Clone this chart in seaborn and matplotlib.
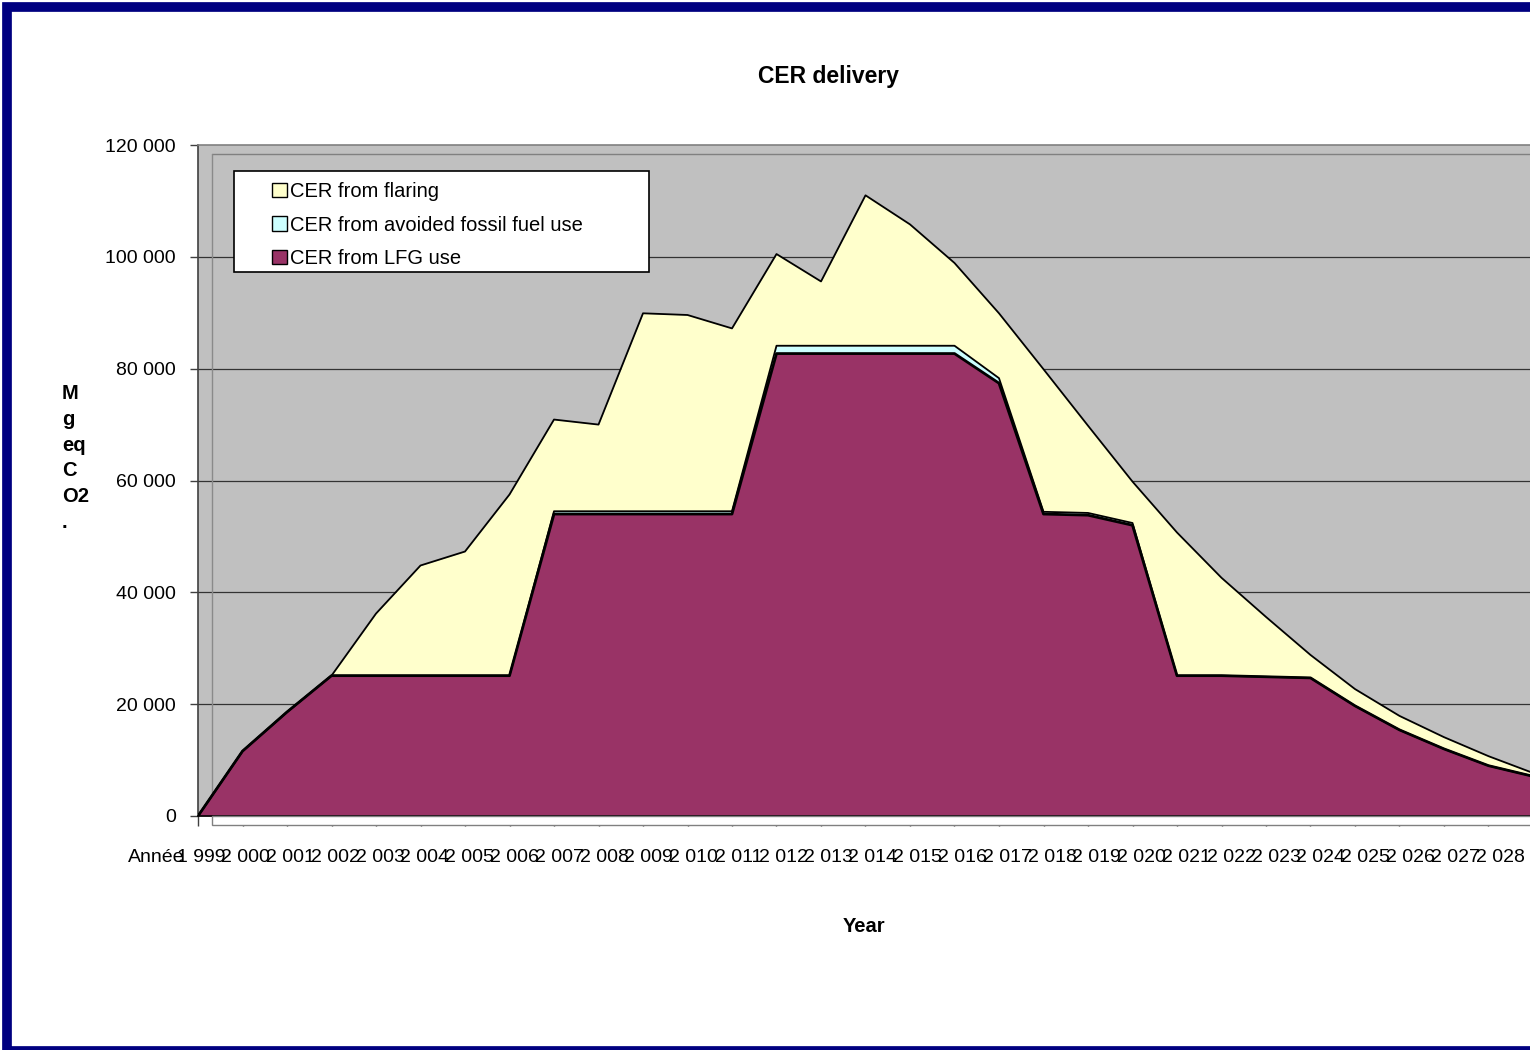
import numpy as np
import pandas as pd
import matplotlib
matplotlib.use("Agg")
import matplotlib.pyplot as plt
import matplotlib.transforms as mtransforms
from matplotlib.patches import Rectangle, Patch
from matplotlib.lines import Line2D
import seaborn as sns

# ---------------- data ----------------
first_label = "Année"
years = ["1 999", "2 000", "2 001", "2 002", "2 003", "2 004", "2 005", "2 006",
         "2 007", "2 008", "2 009", "2 010", "2 011", "2 012", "2 013", "2 014",
         "2 015", "2 016", "2 017", "2 018", "2 019", "2 020", "2 021", "2 022",
         "2 023", "2 024", "2 025", "2 026", "2 027", "2 028", "2 029"]
lfg_use = [0, 11600, 18600, 25100, 25100, 25100, 25100, 25100,
           54000, 54000, 54000, 54000, 54000, 82700, 82700, 82700,
           82700, 82700, 77400, 54000, 53800, 52000, 25100, 25100,
           24900, 24700, 19700, 15400, 12000, 9000, 7100]
avoided_fossil = [0, 0, 0, 0, 0, 0, 0, 0,
                  500, 500, 500, 500, 500, 1400, 1400, 1400,
                  1400, 1400, 900, 400, 400, 400, 0, 0,
                  0, 0, 0, 0, 0, 0, 0]
flaring = [0, 0, 0, 0, 11100, 19700, 22200, 32400,
           16400, 15500, 35400, 35100, 32700, 16400, 11500, 26900,
           21700, 14800, 11600, 25500, 15600, 7400, 25600, 17500,
           10700, 4100, 3000, 2500, 2100, 1700, 600]
series_names = ["CER from flaring", "CER from avoided fossil fuel use", "CER from LFG use"]
yticks = [0, 20000, 40000, 60000, 80000, 100000, 120000]

df = pd.DataFrame({"year": years, "lfg": lfg_use, "fossil": avoided_fossil, "flaring": flaring})
df["pos"] = np.arange(len(df))
df["c1"] = df["lfg"]
df["c2"] = df["c1"] + df["fossil"]
df["c3"] = df["c2"] + df["flaring"]

# ---------------- style ----------------
sns.set_theme(style="white")
plt.rcParams["font.family"] = ["Liberation Sans", "DejaVu Sans"]
for k in ["text.color", "xtick.color", "ytick.color", "axes.labelcolor"]:
    plt.rcParams[k] = "black"

W, H = 1530, 1050
fig = plt.figure(figsize=(W / 100, H / 100), dpi=100)
fig.patch.set_facecolor("white")

def fx(px):
    return px / W

def fy(py):
    return 1 - py / H

ax_left, ax_right, ax_top, ax_bottom = 198, 1560, 145, 816
ax = fig.add_axes([fx(ax_left), fy(ax_bottom), fx(ax_right - ax_left), (ax_bottom - ax_top) / H])
ax.set_facecolor("#C0C0C0")

step_px = 44.5       # spacing of the data categories
label_step_px = 44.8  # spacing of the category labels
label0_px = 156      # centre of the first category label
ax.set_xlim(0, (ax_right - ax_left) / step_px)
ax.set_ylim(0, 120000)

col_lfg = "#993366"
col_fossil = "#CCFFFF"
col_flare = "#FFFFCC"

# grid lines
for v in yticks[1:-1]:
    ax.axhline(v, color="#333333", lw=0.9, zorder=1)

# inner "3D" wall lines
ax.add_line(Line2D([fx(212), fx(1530)], [fy(154), fy(154)], color="#808080", lw=1,
                   transform=fig.transFigure, zorder=1.2, clip_on=False))
ax.add_line(Line2D([fx(212), fx(212)], [fy(154), fy(816)], color="#8a8a8a", lw=1,
                   transform=fig.transFigure, zorder=1.2, clip_on=False))

ax.fill_between(df["pos"], 0, df["c1"], color=col_lfg, lw=0, zorder=2)
ax.fill_between(df["pos"], df["c1"], df["c2"], color=col_fossil, lw=0, zorder=2)
ax.fill_between(df["pos"], df["c2"], df["c3"], color=col_flare, lw=0, zorder=2)
for c, lw in [("c1", 2.0), ("c2", 1.3), ("c3", 1.3)]:
    sns.lineplot(data=df, x="pos", y=c, color="black", lw=lw, ax=ax, zorder=3,
                 legend=False)

ax.set_xlabel("")
ax.set_ylabel("")

# spines
ax.spines["right"].set_visible(False)
ax.spines["top"].set_color("#808080")
ax.spines["left"].set_color("#404040")
ax.spines["bottom"].set_color("black")
for s in ["top", "left", "bottom"]:
    ax.spines[s].set_linewidth(1.2)

# y ticks
ax.set_yticks(yticks)
ax.set_yticklabels([f"{v:,}".replace(",", " ") for v in yticks], fontsize=14)
ax.tick_params(axis="y", direction="out", length=6, width=1, color="#404040", pad=10, left=True)

# x: tick marks on the data categories (minor), labels on their own spacing (major)
ax.set_xticks(df["pos"][:-1], minor=True)
ax.tick_params(axis="x", which="minor", direction="out", length=7, width=1,
               color="#404040", bottom=True)
lab_pos = [(label0_px + label_step_px * (k + 1) - ax_left) / step_px for k in range(len(years) - 1)]
ax.set_xticks(lab_pos)
ax.set_xticklabels(df["year"][:-1], fontsize=14)
ax.tick_params(axis="x", which="major", direction="out", length=0, pad=24, bottom=True)

fig.canvas.draw()
bb = ax.get_xticklabels()[0].get_window_extent()
ax.text((label0_px - ax_left) / step_px, bb.y1 / fig.bbox.height, first_label,
        transform=mtransforms.blended_transform_factory(ax.transData, fig.transFigure),
        fontsize=14, ha="center", va="top", clip_on=False)

# floor strip under the axis
fig.add_artist(Rectangle((fx(212), fy(825)), fx(1400), 9 / H, facecolor="white",
                         edgecolor="#808080", lw=1, zorder=0.5))

# legend box
fig.add_artist(Rectangle((fx(234), fy(272)), fx(649 - 234), (272 - 171) / H,
                         facecolor="white", edgecolor="black", lw=1.2, zorder=5))
handles = [Patch(facecolor=col_flare, edgecolor="black", lw=1),
           Patch(facecolor=col_fossil, edgecolor="black", lw=1),
           Patch(facecolor=col_lfg, edgecolor="black", lw=1)]
leg = fig.legend(handles, series_names, loc="upper left",
                 bbox_to_anchor=(fx(268), fy(178)), frameon=False, fontsize=14.5,
                 handlelength=0.75, handleheight=0.75, handletextpad=0.15,
                 labelspacing=0.72, borderaxespad=0, borderpad=0.2)
leg.set_zorder(6)

# titles
fig.text(fx(828), fy(76), "CER delivery", fontsize=16.5, fontweight="bold", ha="center", va="center")
fig.text(fx(864), fy(926), "Year", fontsize=14.5, fontweight="bold", ha="center", va="center")
fig.text(fx(62), fy(458), "M\ng\neq\nC\nO2\n.", fontsize=14.5, fontweight="bold",
         ha="left", va="center", linespacing=1.45)

# outer navy frame
fig.add_artist(Rectangle((fx(7), fy(1051)), fx(1545 - 7), (1051 - 7) / H, facecolor="none",
                         edgecolor="#000080", lw=7, zorder=10))

fig.savefig("out.png", dpi=100)
